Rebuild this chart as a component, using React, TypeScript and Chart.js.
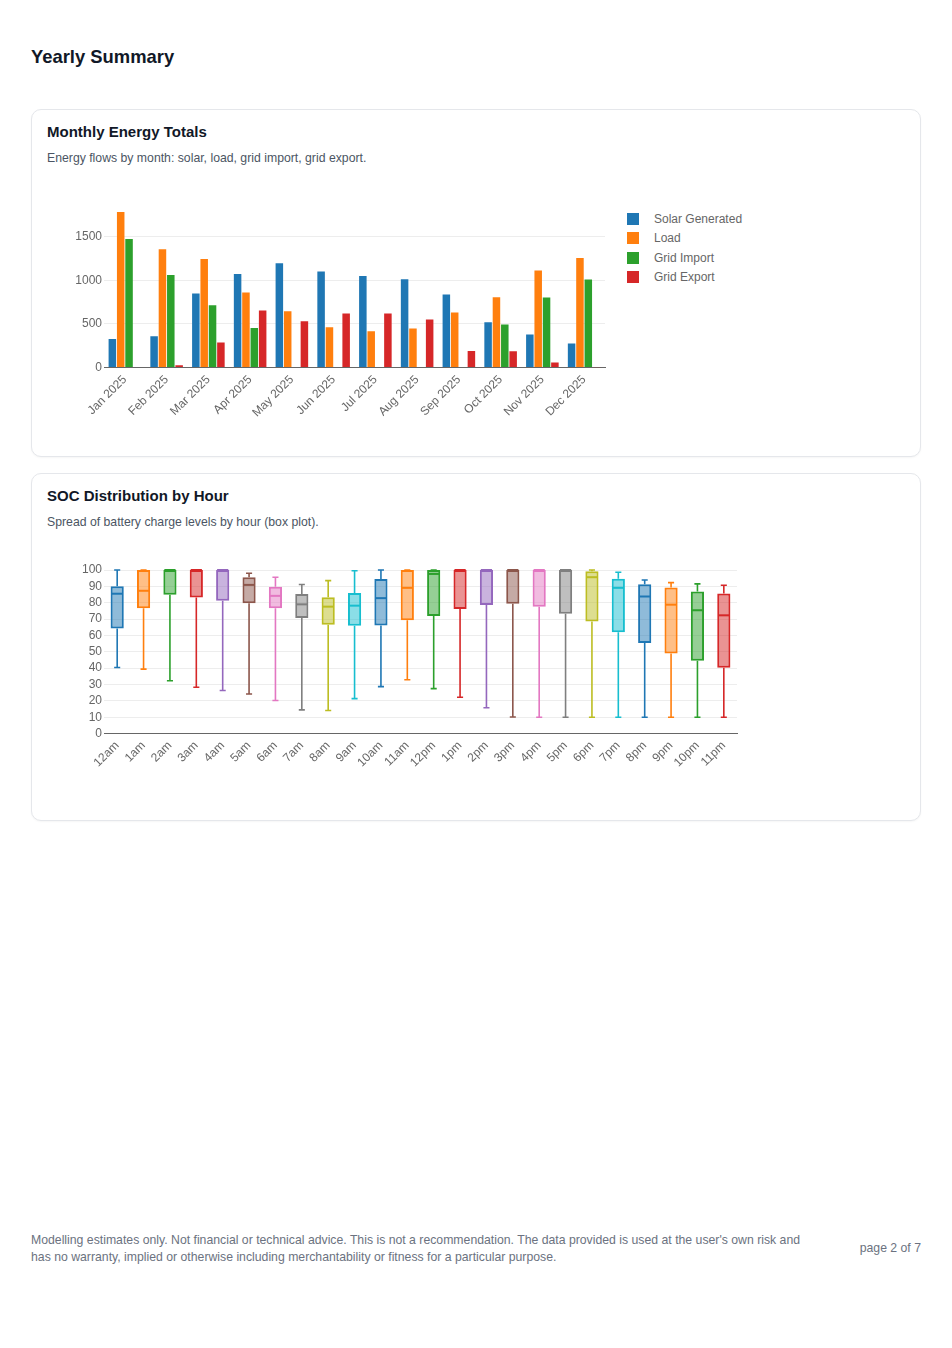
import React, { useEffect, useRef } from "react";
import { Chart, registerables } from "chart.js";

Chart.register(...registerables);

const FONT = "'Helvetica Neue', Helvetica, Arial, sans-serif";
Chart.defaults.font.family = FONT;
Chart.defaults.font.size = 12;
Chart.defaults.color = "#666";

// ---------- Monthly energy totals ----------
const months = [
  "Jan 2025", "Feb 2025", "Mar 2025", "Apr 2025", "May 2025", "Jun 2025",
  "Jul 2025", "Aug 2025", "Sep 2025", "Oct 2025", "Nov 2025", "Dec 2025",
];
const solarGenerated = [328, 359, 847, 1073, 1195, 1099, 1050, 1011, 836, 519, 378, 275];
const load = [1782, 1355, 1244, 859, 645, 462, 416, 447, 630, 805, 1111, 1256];
const gridImport = [1473, 1061, 714, 454, 0, 0, 0, 0, 0, 492, 802, 1008];
const gridExport = [0, 27, 286, 653, 531, 620, 620, 550, 191, 187, 57, 3];
const seriesNames = ["Solar Generated", "Load", "Grid Import", "Grid Export"];
const seriesColors = ["#1f77b4", "#ff7f0e", "#2ca02c", "#d62728"];
const energyTickStep = 500;

// ---------- SOC distribution by hour ----------
const hours = [
  "12am", "1am", "2am", "3am", "4am", "5am", "6am", "7am", "8am", "9am", "10am", "11am",
  "12pm", "1pm", "2pm", "3pm", "4pm", "5pm", "6pm", "7pm", "8pm", "9pm", "10pm", "11pm",
];
const socMin = [40.4, 39.4, 32.3, 28.3, 26.3, 24.2, 20.2, 14.5, 14.1, 21.4, 28.7, 32.9, 27.5, 22.2, 15.8, 10.1, 10, 10, 10, 10, 10, 10, 10, 10];
const socQ1 = [64.2, 76.6, 84.8, 83.2, 81.2, 79.6, 76.6, 70.7, 66.5, 65.9, 66.1, 69.3, 71.9, 76.2, 78.6, 79.4, 77.6, 73.3, 68.5, 62, 55.4, 48.9, 44.6, 40.2];
const socMedian = [85.5, 87.3, 100, 100, 100, 90.9, 84.2, 79, 77.6, 78.2, 82.8, 89.1, 97.6, 100, 100, 100, 100, 100, 95.6, 89.1, 83.8, 78.8, 75.4, 72.3];
const socQ3 = [90.1, 100, 100, 100, 100, 95.6, 89.7, 85.3, 83.4, 85.9, 94.5, 100, 100, 100, 100, 100, 100, 100, 99.2, 94.7, 91.3, 89.3, 86.9, 85.7];
const socMax = [100, 100, 100, 100, 100, 98, 95.6, 91.1, 93.5, 99.5, 100, 100, 100, 100, 100, 100, 100, 100, 100, 98.6, 93.9, 92.3, 91.5, 90.7];
const socTickStep = 10;
const boxPalette = ["#1f77b4", "#ff7f0e", "#2ca02c", "#d62728", "#9467bd", "#8c564b", "#e377c2", "#7f7f7f", "#bcbd22", "#17becf"];

function withAlpha(hex: string, a: number) {
  const r = parseInt(hex.slice(1, 3), 16);
  const g = parseInt(hex.slice(3, 5), 16);
  const b = parseInt(hex.slice(5, 7), 16);
  return `rgba(${r},${g},${b},${a})`;
}

const whiskerPlugin = {
  id: "whiskers",
  afterDatasetsDraw(chart: any) {
    const meta = chart.getDatasetMeta(0);
    const y = chart.scales.y;
    const ctx = chart.ctx;
    ctx.save();
    meta.data.forEach((el: any, i: number) => {
      const color = boxPalette[i % boxPalette.length];
      const x = el.x;
      const w = el.width;
      const pMin = y.getPixelForValue(socMin[i]);
      const pQ1 = y.getPixelForValue(socQ1[i]);
      const pMed = y.getPixelForValue(socMedian[i]);
      const pQ3 = y.getPixelForValue(socQ3[i]);
      const pMax = y.getPixelForValue(socMax[i]);
      const cap = w * 0.23;
      ctx.strokeStyle = color;
      ctx.lineWidth = 1.6;
      ctx.beginPath();
      ctx.moveTo(x, pQ3);
      ctx.lineTo(x, pMax);
      ctx.moveTo(x - cap, pMax);
      ctx.lineTo(x + cap, pMax);
      ctx.moveTo(x, pQ1);
      ctx.lineTo(x, pMin);
      ctx.moveTo(x - cap, pMin);
      ctx.lineTo(x + cap, pMin);
      ctx.stroke();
      ctx.lineWidth = 2;
      ctx.beginPath();
      ctx.moveTo(x - w / 2 + 1, pMed);
      ctx.lineTo(x + w / 2 - 1, pMed);
      ctx.stroke();
    });
    ctx.restore();
  },
};

const plainLabel = (v: any) => String(v);

function EnergyChart() {
  const ref = useRef<HTMLCanvasElement | null>(null);
  useEffect(() => {
    if (!ref.current) return;
    const series = [solarGenerated, load, gridImport, gridExport];
    const dataMax = Math.max(...series.flat());
    const chart = new Chart(ref.current, {
      type: "bar",
      data: {
        labels: months,
        datasets: series.map((d, i) => ({
          label: seriesNames[i],
          data: d,
          backgroundColor: seriesColors[i],
          borderWidth: 0,
          barPercentage: 0.9,
          categoryPercentage: 0.8,
        })),
      },
      options: {
        animation: false,
        responsive: true,
        maintainAspectRatio: false,
        layout: { padding: { top: 32, right: 5, bottom: 15, left: 0 } },
        plugins: { legend: { display: false }, tooltip: { enabled: false } },
        scales: {
          x: {
            grid: { display: false, drawTicks: false },
            border: { color: "#666", width: 1 },
            ticks: { minRotation: 45, maxRotation: 45, autoSkip: false, padding: 5 },
          },
          y: {
            min: 0,
            max: dataMax,
            ticks: { autoSkip: false, padding: 2, callback: plainLabel },
            grid: { color: "rgba(0,0,0,0.07)", drawTicks: false },
            border: { display: false },
            afterBuildTicks: (s: any) => {
              const t: any[] = [];
              for (let v = 0; v <= s.max; v += energyTickStep) t.push({ value: v });
              s.ticks = t;
            },
            afterFit: (s: any) => {
              s.width = 57;
            },
          },
        },
      },
    });
    return () => chart.destroy();
  }, []);
  return (
    <div style={{ position: "relative", height: 260 }}>
      <div style={{ position: "relative", width: 563, height: 260 }}>
        <canvas ref={ref} />
      </div>
      <div style={{ position: "absolute", left: 580, top: 29.3 }}>
        {seriesNames.map((n, i) => (
          <div key={n} style={{ display: "flex", alignItems: "center", height: 19.4 }}>
            <span style={{ width: 12, height: 12, background: seriesColors[i], display: "inline-block", marginRight: 15 }} />
            <span style={{ fontSize: 12, color: "#666", lineHeight: "14px" }}>{n}</span>
          </div>
        ))}
      </div>
    </div>
  );
}

function SocChart() {
  const ref = useRef<HTMLCanvasElement | null>(null);
  useEffect(() => {
    if (!ref.current) return;
    const chart = new Chart(ref.current, {
      type: "bar",
      data: {
        labels: hours,
        datasets: [
          {
            label: "SOC",
            data: hours.map((_, i) => [socQ1[i], socQ3[i]]),
            backgroundColor: hours.map((_, i) => withAlpha(boxPalette[i % boxPalette.length], 0.5)),
            borderColor: hours.map((_, i) => boxPalette[i % boxPalette.length]),
            borderWidth: 2,
            borderSkipped: false,
            barPercentage: 0.5,
            categoryPercentage: 1,
          } as any,
        ],
      },
      plugins: [whiskerPlugin],
      options: {
        animation: false,
        responsive: true,
        maintainAspectRatio: false,
        layout: { padding: { top: 26, right: 0, bottom: 29, left: 0 } },
        plugins: { legend: { display: false }, tooltip: { enabled: false } },
        scales: {
          x: {
            grid: { display: false, drawTicks: false },
            border: { color: "#666", width: 1 },
            ticks: { minRotation: 45, maxRotation: 45, autoSkip: false, padding: 5 },
          },
          y: {
            min: 0,
            max: 100,
            ticks: { stepSize: socTickStep, autoSkip: false, padding: 2 },
            grid: { color: "rgba(0,0,0,0.07)", drawTicks: false },
            border: { display: false },
            afterFit: (s: any) => {
              s.width = 57;
            },
          },
        },
      },
    });
    return () => chart.destroy();
  }, []);
  return (
    <div style={{ position: "relative", width: 692, height: 260 }}>
      <canvas ref={ref} />
    </div>
  );
}

function Card({ title, subtitle, children, style }: any) {
  return (
    <div
      style={{
        border: "1px solid #e5e7eb",
        borderRadius: 10,
        padding: "13px 15px 16px",
        background: "#fff",
        boxShadow: "0 1px 2px rgba(0,0,0,0.04)",
        ...style,
      }}
    >
      <div style={{ fontSize: 15, fontWeight: 700, lineHeight: "18px", color: "#111827" }}>{title}</div>
      <div style={{ fontSize: 12.25, lineHeight: "16px", color: "#4b5563", marginTop: 9 }}>{subtitle}</div>
      <div style={{ marginTop: 14 }}>{children}</div>
    </div>
  );
}

export default function App() {
  return (
    <div
      style={{
        position: "relative",
        height: 1300,
        padding: "38px 23px 0",
        boxSizing: "border-box",
        fontFamily: FONT,
      }}
    >
      <div style={{ fontSize: 18.4, fontWeight: 700, lineHeight: "22px", color: "#111827" }}>Yearly Summary</div>
      <Card
        title="Monthly Energy Totals"
        subtitle="Energy flows by month: solar, load, grid import, grid export."
        style={{ marginTop: 41 }}
      >
        <EnergyChart />
      </Card>
      <Card
        title="SOC Distribution by Hour"
        subtitle="Spread of battery charge levels by hour (box plot)."
        style={{ marginTop: 16 }}
      >
        <SocChart />
      </Card>
      <div
        style={{
          position: "absolute",
          top: 1223.5,
          left: 23,
          right: 23,
          display: "flex",
          alignItems: "center",
          justifyContent: "space-between",
          fontSize: 12.25,
          lineHeight: "17px",
          color: "#6b7280",
        }}
      >
        <div style={{ maxWidth: 780 }}>
          Modelling estimates only. Not financial or technical advice. This is not a recommendation. The data
          provided is used at the user's own risk and has no warranty, implied or otherwise including
          merchantability or fitness for a particular purpose.
        </div>
        <div>page 2 of 7</div>
      </div>
    </div>
  );
}
